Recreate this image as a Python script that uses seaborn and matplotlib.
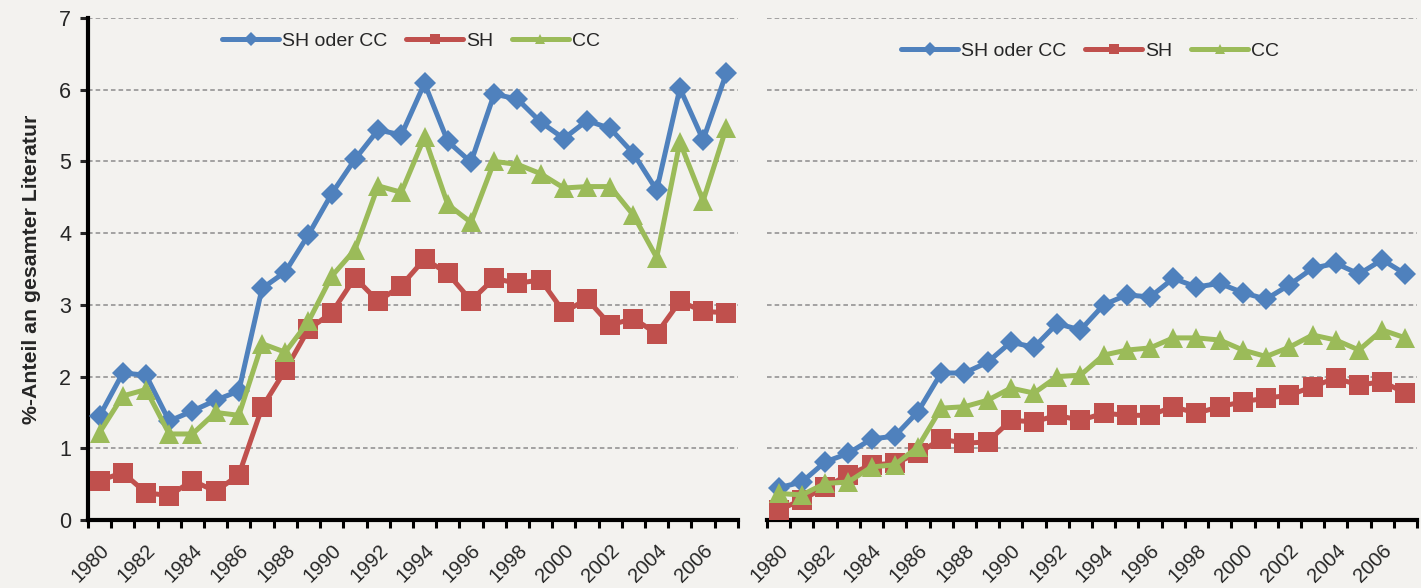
import numpy as np
import pandas as pd
import matplotlib
matplotlib.use("Agg")
import matplotlib.pyplot as plt
from matplotlib.lines import Line2D
import seaborn as sns

years = list(range(1980, 2008))

# left panel
left_sh_oder_cc = [1.45, 2.05, 2.02, 1.38, 1.52, 1.67, 1.80, 3.23, 3.46, 3.98,
                   4.55, 5.03, 5.44, 5.37, 6.09, 5.28, 4.99, 5.94, 5.87, 5.55,
                   5.32, 5.57, 5.46, 5.11, 4.60, 6.02, 5.30, 6.23]
left_sh = [0.55, 0.66, 0.38, 0.34, 0.55, 0.40, 0.63, 1.57, 2.09, 2.66,
           2.89, 3.38, 3.05, 3.27, 3.64, 3.44, 3.06, 3.37, 3.30, 3.35,
           2.90, 3.08, 2.72, 2.81, 2.60, 3.05, 2.91, 2.89]
left_cc = [1.22, 1.73, 1.82, 1.20, 1.20, 1.50, 1.46, 2.46, 2.34, 2.77,
           3.40, 3.77, 4.66, 4.57, 5.34, 4.40, 4.15, 5.00, 4.96, 4.83,
           4.63, 4.65, 4.65, 4.25, 3.66, 5.27, 4.45, 5.47]

# right panel
right_sh_oder_cc = [0.45, 0.53, 0.81, 0.93, 1.13, 1.17, 1.51, 2.05, 2.05, 2.20,
                    2.48, 2.41, 2.74, 2.65, 3.00, 3.14, 3.11, 3.37, 3.25, 3.30,
                    3.17, 3.08, 3.28, 3.51, 3.58, 3.43, 3.63, 3.43]
right_sh = [0.14, 0.28, 0.46, 0.63, 0.77, 0.79, 0.93, 1.13, 1.07, 1.09,
            1.39, 1.37, 1.46, 1.39, 1.49, 1.46, 1.46, 1.58, 1.49, 1.58,
            1.65, 1.70, 1.74, 1.86, 1.98, 1.88, 1.93, 1.77]
right_cc = [0.37, 0.35, 0.51, 0.53, 0.74, 0.77, 1.02, 1.56, 1.58, 1.67,
            1.84, 1.77, 2.00, 2.02, 2.30, 2.37, 2.40, 2.54, 2.54, 2.51,
            2.37, 2.28, 2.41, 2.58, 2.51, 2.37, 2.65, 2.54]

series_names = ["SH oder CC", "SH", "CC"]
colors = {"SH oder CC": "#4F81BD", "SH": "#C0504D", "CC": "#9BBB59"}
markers = {"SH oder CC": "D", "SH": "s", "CC": "^"}
msizes = {"SH oder CC": 11, "SH": 14.5, "CC": 14.5}

BG = "#F3F2EF"

sns.set_theme(style="white")
plt.rcParams["font.family"] = ["Liberation Sans", "DejaVu Sans"]


def long_frame(a, b, c):
    parts = []
    for name, vals in zip(series_names, [a, b, c]):
        parts.append(pd.DataFrame({"year": years, "value": vals, "series": name}))
    return pd.concat(parts, ignore_index=True)


left_df = long_frame(left_sh_oder_cc, left_sh, left_cc)
right_df = long_frame(right_sh_oder_cc, right_sh, right_cc)

fig = plt.figure(figsize=(14.21, 5.88), dpi=100, facecolor=BG)
ax_l = fig.add_axes([0.0619, 0.1156, 0.4574, 0.8537], facecolor=BG)
ax_r = fig.add_axes([0.5398, 0.1156, 0.4574, 0.8537], facecolor=BG)


def draw_panel(ax, df, show_y, legend_y):
    for name in series_names:
        sub = df[df["series"] == name]
        sns.lineplot(data=sub, x="year", y="value", ax=ax, color=colors[name],
                     marker=markers[name], markersize=msizes[name],
                     markeredgewidth=0, linewidth=3.6, legend=False, zorder=3)
    ax.set_xlim(1979.5, 2007.5)
    ax.set_ylim(0, 7)
    ax.set_yticks(range(0, 8))
    for y in range(1, 8):
        ax.axhline(y, color="#8C8C8C", linestyle=(0, (3, 2)), linewidth=1.1, zorder=1)
    ax.set_xticks(range(1980, 2008, 2))
    ax.set_xticklabels([str(y) for y in range(1980, 2008, 2)], rotation=45,
                       ha="right", va="top", rotation_mode="anchor", fontsize=14.5)
    ax.set_xticks(np.arange(1979.5, 2008.0, 1.0), minor=True)
    ax.tick_params(axis="x", which="major", length=0, pad=15)
    ax.tick_params(axis="x", which="minor", length=6, width=2.2, direction="out",
                   color="black", bottom=True)
    for s in ["top", "right"]:
        ax.spines[s].set_visible(False)
    ax.spines["bottom"].set_linewidth(3)
    ax.spines["bottom"].set_color("black")
    ax.set_xlabel("")
    if show_y:
        ax.spines["left"].set_linewidth(3)
        ax.spines["left"].set_color("black")
        ax.tick_params(axis="y", length=6, width=2.2, direction="out", left=True,
                       labelsize=15.5, pad=6)
        ax.set_ylabel("%-Anteil an gesamter Literatur", fontsize=15.3,
                      fontweight="bold", labelpad=13)
    else:
        ax.spines["left"].set_visible(False)
        ax.tick_params(axis="y", left=False, labelleft=False)
        ax.set_ylabel("")
    handles = [Line2D([0], [0], color=colors[n], marker=markers[n], markersize=7,
                      markeredgewidth=0, linewidth=3.6) for n in series_names]
    ax.legend(handles, series_names, loc="center", bbox_to_anchor=(0.497, legend_y),
              ncol=3, frameon=False, fontsize=14, handlelength=2.9,
              handletextpad=0.15, columnspacing=1.0)


draw_panel(ax_l, left_df, True, 0.954)
draw_panel(ax_r, right_df, False, 0.934)

fig.savefig("out.png", dpi=100, facecolor=BG)
